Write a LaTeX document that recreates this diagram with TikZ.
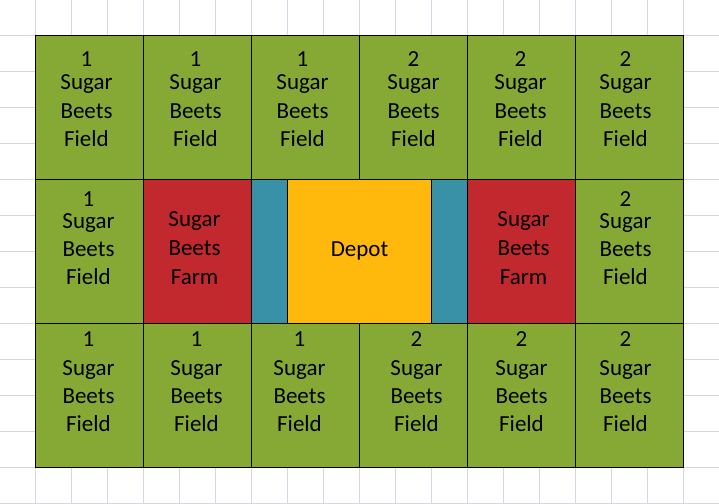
\documentclass[tikz,border=0pt]{standalone}
\usepackage{fontspec}
\setmainfont{Carlito}
\definecolor{gridc}{RGB}{212,216,224}
\definecolor{fieldg}{RGB}{134,169,53}
\definecolor{farmr}{RGB}{193,41,46}
\definecolor{roadt}{RGB}{57,145,168}
\definecolor{depoto}{RGB}{255,184,11}
\begin{document}
\begin{tikzpicture}[x=1pt,y=-1pt,
  cellbox/.style={draw=black,line width=1pt,inner sep=0pt,minimum width=108pt,minimum height=144pt},
  lbl/.style={anchor=base,inner sep=0pt,font=\fontsize{23}{27}\selectfont}]
\useasboundingbox (0,0) rectangle (719,503);
\fill[white] (0,0) rectangle (719,503);
% spreadsheet grid
\foreach \k in {0,...,19} {
  \draw[gridc,line width=1pt] ({35.5+36*(\k-1)},0) -- ({35.5+36*(\k-1)},503);
}
\foreach \k in {0,...,14} {
  \draw[gridc,line width=1pt] (0,{35.5+36*(\k-1)}) -- (719,{35.5+36*(\k-1)});
}
% top row fields
\foreach \c/\d/\dx in {1/1/-3,2/1/-2,3/1/-3,4/2/0,5/2/-1,6/2/-4} {
  \node[cellbox,fill=fieldg] (t\c) at ({35.5+108*(\c-1)+54},107.5) {};
  \node[lbl] (t\c a) at ([xshift=\dx pt,yshift=-31.5pt]t\c.north) {\d};
  \node[lbl] (t\c b) at ([xshift=\dx pt,yshift=-54.8pt]t\c.north) {Sugar};
  \node[lbl] (t\c c) at ([xshift=\dx pt,yshift=-83.3pt]t\c.north) {Beets};
  \node[lbl] (t\c d) at ([xshift=\dx pt,yshift=-111.6pt]t\c.north) {Field};
}
% bottom row fields
\foreach \c/\d/\dx in {1/1/-1,2/1/-1,3/1/-6,4/2/3,5/2/0,6/2/-4} {
  \node[cellbox,fill=fieldg] (b\c) at ({35.5+108*(\c-1)+54},395.5) {};
  \node[lbl] (b\c a) at ([xshift=\dx pt,yshift=-23.3pt]b\c.north) {\d};
  \node[lbl] (b\c b) at ([xshift=\dx pt,yshift=-52.3pt]b\c.north) {Sugar};
  \node[lbl] (b\c c) at ([xshift=\dx pt,yshift=-80.6pt]b\c.north) {Beets};
  \node[lbl] (b\c d) at ([xshift=\dx pt,yshift=-108.9pt]b\c.north) {Field};
}
% middle row
\foreach \c/\d/\dx in {1/1/-1,6/2/-4} {
  \node[cellbox,fill=fieldg] (m\c) at ({35.5+108*(\c-1)+54},251.5) {};
  \node[lbl] (m\c a) at ([xshift=\dx pt,yshift=-27.3pt]m\c.north) {\d};
  \node[lbl] (m\c b) at ([xshift=\dx pt,yshift=-49pt]m\c.north) {Sugar};
  \node[lbl] (m\c c) at ([xshift=\dx pt,yshift=-77.3pt]m\c.north) {Beets};
  \node[lbl] (m\c d) at ([xshift=\dx pt,yshift=-105pt]m\c.north) {Field};
}
\foreach \c/\dx in {2/-3,5/2} {
  \node[cellbox,fill=farmr] (m\c) at ({35.5+108*(\c-1)+54},251.5) {};
  \node[lbl] (m\c b) at ([xshift=\dx pt,yshift=-47.3pt]m\c.north) {Sugar};
  \node[lbl] (m\c c) at ([xshift=\dx pt,yshift=-76.3pt]m\c.north) {Beets};
  \node[lbl] (m\c d) at ([xshift=\dx pt,yshift=-105pt]m\c.north) {Farm};
}
\node[cellbox,fill=roadt,minimum width=36pt] (rl) at (269.5,251.5) {};
\node[cellbox,fill=roadt,minimum width=36pt] (rr) at (449.5,251.5) {};
\node[cellbox,fill=depoto,minimum width=144pt] (dep) at (359.5,251.5) {};
\node[lbl] (depl) at ([yshift=-77pt]dep.north) {Depot};
\end{tikzpicture}
\end{document}
